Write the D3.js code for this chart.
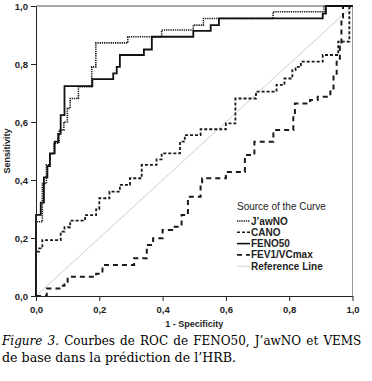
<!DOCTYPE html>
<html>
<head>
<meta charset="utf-8">
<script src="https://cdn.jsdelivr.net/npm/d3@7"></script>
<style>
  body { margin: 0; background: #fff; }
  svg { display: block; }
</style>
</head>
<body>
<svg width="372" height="381"></svg>
<script>
// ROC points (1 - specificity, sensitivity), drawn as steps
const jawnoFpr = [0, 0, 0.02, 0.033, 0.044, 0.057, 0.073, 0.088, 0.099, 0.108, 0.134, 0.176, 0.189, 0.29, 0.397, 0.497, 0.529, 0.749, 0.91, 1];
const jawnoTpr = [0, 0.256, 0.388, 0.452, 0.49, 0.527, 0.572, 0.6, 0.647, 0.681, 0.722, 0.79, 0.873, 0.894, 0.917, 0.934, 0.957, 0.98, 1, 1];

const canoFpr = [0, 0, 0.01, 0.02, 0.078, 0.09, 0.108, 0.155, 0.19, 0.2, 0.232, 0.265, 0.297, 0.334, 0.381, 0.397, 0.455, 0.47, 0.52, 0.6, 0.63, 0.695, 0.76, 0.785, 0.81, 0.82, 0.837, 0.906, 0.955, 0.99, 1];
const canoTpr = [0, 0.153, 0.164, 0.193, 0.222, 0.237, 0.26, 0.279, 0.299, 0.337, 0.36, 0.383, 0.406, 0.452, 0.471, 0.492, 0.532, 0.555, 0.575, 0.595, 0.681, 0.705, 0.728, 0.75, 0.779, 0.79, 0.808, 0.831, 0.877, 1, 1];

const fenoFpr = [0, 0, 0.015, 0.025, 0.036, 0.044, 0.059, 0.07, 0.078, 0.09, 0.178, 0.244, 0.255, 0.265, 0.341, 0.366, 0.497, 0.552, 0.578, 0.906, 0.916, 1];
const fenoTpr = [0, 0.28, 0.322, 0.409, 0.448, 0.492, 0.532, 0.559, 0.624, 0.724, 0.748, 0.768, 0.79, 0.831, 0.85, 0.894, 0.914, 0.934, 0.957, 0.974, 1, 1];

const fevFpr = [0, 0.034, 0.08, 0.09, 0.1, 0.19, 0.21, 0.31, 0.35, 0.37, 0.4, 0.43, 0.46, 0.48, 0.52, 0.525, 0.6, 0.66, 0.69, 0.75, 0.813, 0.818, 0.866, 0.89, 0.93, 0.94, 0.95, 0.96, 0.965, 0.97, 1];
const fevTpr = [0, 0.026, 0.035, 0.049, 0.066, 0.077, 0.107, 0.13, 0.176, 0.199, 0.228, 0.239, 0.279, 0.342, 0.383, 0.406, 0.428, 0.486, 0.532, 0.572, 0.624, 0.664, 0.676, 0.687, 0.705, 0.757, 0.814, 0.87, 0.96, 1, 1];

const refFpr = [0, 1];
const refTpr = [0, 1];

const seriesNames = ["J’awNO", "CANO", "FENO50", "FEV1/VCmax", "Reference Line"];
const tickValues = [0, 0.2, 0.4, 0.6, 0.8, 1.0];

const svg = d3.select("svg");
const x = d3.scaleLinear().domain([0, 1]).range([36, 352.5]);
const y = d3.scaleLinear().domain([0, 1]).range([296, 6]);

const styles = [
    { stroke: "#1a1a1a", width: 1.6, dash: "1.3,0.9", curve: d3.curveStepAfter },
    { stroke: "#1a1a1a", width: 1.8, dash: "3,2", curve: d3.curveStepAfter },
    { stroke: "#111", width: 1.8, dash: null, curve: d3.curveStepAfter },
    { stroke: "#1a1a1a", width: 2, dash: "5,4", curve: d3.curveStepAfter },
    { stroke: "#cfcfcf", width: 1, dash: null, curve: d3.curveLinear }
];

const series = [
    [jawnoFpr, jawnoTpr],
    [canoFpr, canoTpr],
    [fenoFpr, fenoTpr],
    [fevFpr, fevTpr],
    [refFpr, refTpr]
];

// frame top and right
svg.append("line").attr("x1", x(0)).attr("x2", x(1)).attr("y1", y(1)).attr("y2", y(1))
    .attr("stroke", "#555").attr("stroke-width", 1);
svg.append("line").attr("x1", x(1)).attr("x2", x(1)).attr("y1", y(1)).attr("y2", y(0))
    .attr("stroke", "#999").attr("stroke-width", 1);

// draw reference first, then curves
const order = [4, 3, 1, 0, 2];
order.forEach(i => {
    const [fx, ty] = series[i];
    const pts = fx.map((d, k) => [d, ty[k]]);
    const line = d3.line().x(d => x(d[0])).y(d => y(d[1])).curve(styles[i].curve);
    svg.append("path")
        .attr("d", line(pts))
        .attr("fill", "none")
        .attr("stroke", styles[i].stroke)
        .attr("stroke-width", styles[i].width)
        .attr("stroke-dasharray", styles[i].dash);
});

const fmt = d => d3.format(".1f")(d).replace(".", ",");

const xAxis = svg.append("g")
    .attr("transform", `translate(0,${y(0)})`)
    .call(d3.axisBottom(x).tickValues(tickValues).tickFormat(fmt).tickSize(5).tickSizeOuter(0));
const yAxis = svg.append("g")
    .attr("transform", `translate(${x(0)},0)`)
    .call(d3.axisLeft(y).tickValues(tickValues).tickFormat(fmt).tickSize(5).tickSizeOuter(0));

[xAxis, yAxis].forEach(g => {
    g.selectAll("path, line").attr("stroke", "#222");
    g.selectAll("text")
        .attr("font-family", "Liberation Sans, Arial, sans-serif")
        .attr("font-size", 9.5)
        .attr("font-weight", "bold")
        .attr("fill", "#222");
});
xAxis.selectAll("text").attr("dy", "0.9em");

svg.append("text")
    .attr("x", (x(0) + x(1)) / 2)
    .attr("y", 327)
    .attr("text-anchor", "middle")
    .attr("font-family", "Liberation Sans, Arial, sans-serif")
    .attr("font-size", 9)
    .attr("font-weight", "bold")
    .attr("fill", "#222")
    .text("1 - Specificity");

svg.append("text")
    .attr("transform", `translate(10,${(y(0) + y(1)) / 2}) rotate(-90)`)
    .attr("text-anchor", "middle")
    .attr("font-family", "Liberation Sans, Arial, sans-serif")
    .attr("font-size", 9)
    .attr("font-weight", "bold")
    .attr("fill", "#222")
    .text("Sensitivity");

// legend
const legend = svg.append("g").attr("transform", "translate(237,0)");
legend.append("text")
    .attr("x", 0).attr("y", 210)
    .attr("font-family", "Liberation Sans, Arial, sans-serif")
    .attr("font-size", 10)
    .attr("fill", "#222")
    .text("Source of the Curve");

seriesNames.forEach((name, i) => {
    const yy = 221 + i * 11.3;
    legend.append("line")
        .attr("x1", 0).attr("x2", 13).attr("y1", yy).attr("y2", yy)
        .attr("stroke", styles[i].stroke)
        .attr("stroke-width", Math.min(styles[i].width, 1.6))
        .attr("stroke-dasharray", styles[i].dash);
    legend.append("text")
        .attr("x", 14).attr("y", yy + 3.5)
        .attr("font-family", "Liberation Sans, Arial, sans-serif")
        .attr("font-size", 10)
        .attr("font-weight", "bold")
        .attr("fill", "#222")
        .text(name);
});

// caption
const capFont = "DejaVu Serif, Liberation Serif, serif";
const cap1 = svg.append("text")
    .attr("x", 2).attr("y", 345)
    .attr("font-family", capFont)
    .attr("font-size", 12)
    .attr("fill", "#000");
cap1.append("tspan").attr("font-style", "italic").text("Figure 3.");
cap1.append("tspan").text(" Courbes de ROC de FENO50, J’awNO et VEMS");
const w1 = cap1.node().getComputedTextLength();
if (w1 < 358) cap1.attr("word-spacing", (358 - w1) / 8);
else cap1.attr("textLength", 358).attr("lengthAdjust", "spacingAndGlyphs");

const cap2 = svg.append("text")
    .attr("x", 2).attr("y", 362)
    .attr("font-family", capFont)
    .attr("font-size", 12)
    .attr("fill", "#000")
    .text("de base dans la prédiction de l’HRB.");
cap2.attr("textLength", 234).attr("lengthAdjust", "spacingAndGlyphs");
</script>
</body>
</html>
